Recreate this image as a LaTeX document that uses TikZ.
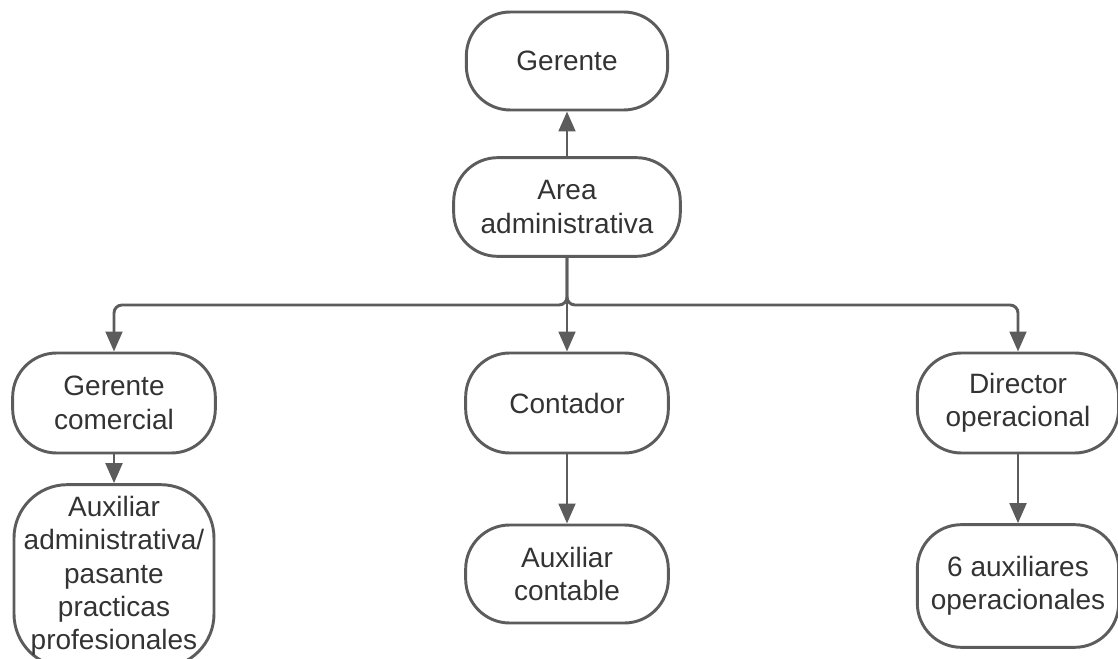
\documentclass[tikz,border=0pt]{standalone}
\usepackage{fontspec}
\setmainfont{Liberation Sans}
\usetikzlibrary{arrows.meta,positioning}
\definecolor{linegray}{HTML}{5C5C5C}
\definecolor{textgray}{HTML}{333333}

\begin{document}
\begin{tikzpicture}[
  x=0.75pt,y=-0.75pt,
  box/.style={draw=linegray,line width=2.2pt,rounded corners=33pt,minimum width=152pt,minimum height=75pt,
    align=center,inner sep=1pt,text=textgray,font=\fontsize{21}{25}\selectfont},
  link/.style={linegray,line width=2.2pt,rounded corners=6pt,-{Triangle[length=15pt,width=12.5pt]}}
]
  \useasboundingbox (0,0) rectangle (1118,659);
  \clip (0,0) rectangle (1118,659);

  \node[box,minimum height=73.5pt,minimum width=151pt] (ger) at (567,61) {Gerente};
  \node[box,minimum height=74pt,minimum width=170pt] (area) at (567,207) {Area\\administrativa};
  \coordinate (hub) at (567,305);

  \node[box] (gcom) at (114,403) {Gerente\\comercial};
  \node[box] (cont) at (567,403) {Contador};
  \node[box,minimum width=151pt] (dir) at (1018,403) {Director\\operacional};

  \node[box,minimum height=137pt,minimum width=150pt,rounded corners=40pt] (auxadm) at (114,576)
    {Auxiliar\\administrativa/\\pasante\\practicas\\profesionales};
  \node[box,minimum height=73.5pt] (auxcont) at (567,574) {Auxiliar\\contable};
  \node[box,minimum height=92pt,minimum width=151pt] (auxop) at (1018,586) {6 auxiliares\\operacionales};

  \draw[link] (area) -- (ger);
  \draw[link] (area.south) -- (hub) -| (gcom.north);
  \draw[link] (area.south) -- (hub) -| (dir.north);
  \draw[link] (area) -- (cont);
  \draw[link] (gcom) -- (auxadm);
  \draw[link] (cont) -- (auxcont);
  \draw[link] (dir) -- (auxop);
\end{tikzpicture}
\end{document}
